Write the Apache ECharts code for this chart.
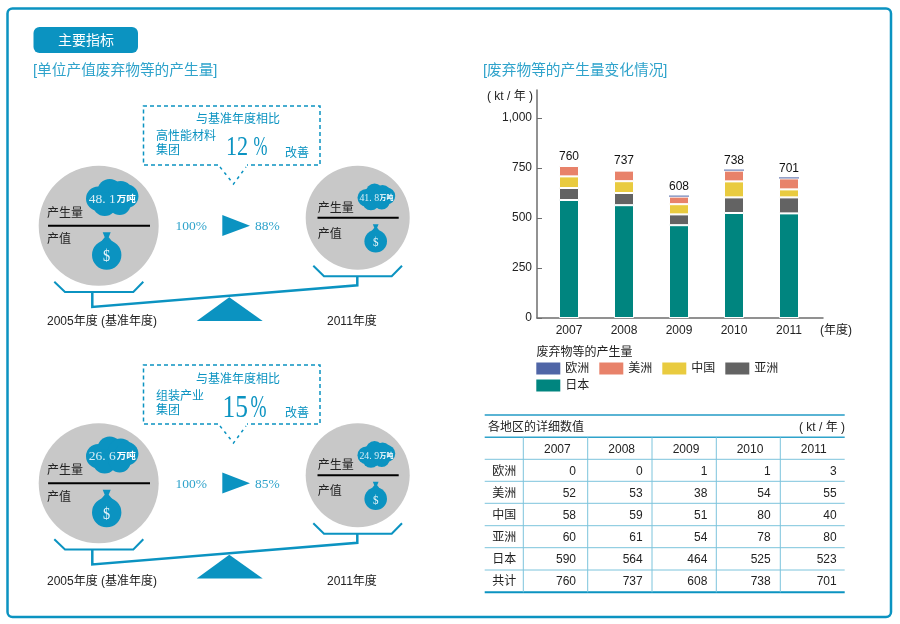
<!DOCTYPE html>
<html lang="zh">
<head>
<meta charset="UTF-8">
<title>主要指标</title>
<script src="https://cdn.jsdelivr.net/npm/echarts@6/dist/echarts.min.js"></script>
<style>
  html, body { margin: 0; padding: 0; background: #fff; }
  #chart { width: 900px; height: 624px; }
</style>
</head>
<body>
<div id="chart"></div>
<script>
// data
const years = ['2007', '2008', '2009', '2010', '2011'];
const europe = [0, 0, 1, 1, 3];
const america = [52, 53, 38, 54, 55];
const china = [58, 59, 51, 80, 40];
const asia = [60, 61, 54, 78, 80];
const japan = [590, 564, 464, 525, 523];
const totals = [760, 737, 608, 738, 701];
const yTicks = [0, 250, 500, 750, 1000];

const BLUE = '#0b93c1';
const LIGHT = '#2fa3cb';
const SANS = '"Liberation Sans","Noto Sans CJK SC",sans-serif';
const SERIF = '"Liberation Serif","Noto Serif CJK SC",serif';
const DARK = '#222';

const graphic = [];

function txt(x, y, text, size, fill, opt) {
  opt = opt || {};
  graphic.push({
    type: 'text', silent: true, x: x, y: y + 1.2, scaleX: opt.scaleX || 1,
    style: {
      x: 0, y: 0, text: text, fill: fill || DARK,
      font: (opt.weight || 'normal') + ' ' + size + 'px ' + (opt.family || SANS),
      textAlign: opt.align || 'left', textVerticalAlign: 'middle',
      align: opt.align || 'left', verticalAlign: 'middle'
    }
  });
}
function line(points, color, width, dash) {
  graphic.push({
    type: 'polyline', silent: true, shape: { points: points },
    style: { stroke: color, lineWidth: width, fill: null, lineDash: dash || null }
  });
}
function poly(points, fill) {
  graphic.push({ type: 'polygon', silent: true, shape: { points: points }, style: { fill: fill } });
}
function circle(cx, cy, r, fill) {
  graphic.push({ type: 'circle', silent: true, shape: { cx: cx, cy: cy, r: r }, style: { fill: fill } });
}

// gray disc with the cloud (waste) over the bag (value)
function disc(p) {
  circle(p.cx, p.cy, p.r, '#c8c8c8');
  line([[p.lineX[0], p.cy], [p.lineX[1], p.cy]], '#000', 2);
  txt(p.textX, p.cy + p.labelDy[0], '产生量', 12, DARK);
  txt(p.textX, p.cy + p.labelDy[1], '产值', 12, DARK);
  const c = p.cloud, s = p.scale;
  const lobes = [[-13.5, 0.7, 12.2], [-2, -6.7, 12.3], [9, -4.5, 12.5], [15, -1.7, 11.7], [-7, 6, 12], [8, 6, 11]];
  lobes.forEach(function (l) { circle(c[0] + l[0] * s, c[1] + l[1] * s, l[2] * s, BLUE); });
  txt(c[0] - 23 * s, c[1], p.value, 13 * s + 0.5, '#d8eef6', { family: SERIF });
  txt(c[0] + 5 * s, c[1], '万吨', 9.5 * s, '#fff', { weight: 'bold' });
  const b = p.bag, r = p.bagR;
  poly([[b[0] - 4 * s, b[1] - r - 8 * s], [b[0] + 4 * s, b[1] - r - 8 * s], [b[0] + 2 * s, b[1] - r - 3 * s], [b[0] + 7 * s, b[1] - r + 3 * s], [b[0] - 7 * s, b[1] - r + 3 * s], [b[0] - 2 * s, b[1] - r - 3 * s]], BLUE);
  circle(b[0], b[1], r, BLUE);
  txt(b[0], b[1] + 0.5, '$', r * 1.15, '#e6f4f9', { family: SERIF, align: 'center', scaleX: 0.85 });
}

// one balance scale panel, dy moves the drawing, dt the texts
function panel(dy, dBox, dt, o) {
  line([[218, 165 + dBox], [143.5, 165 + dBox], [143.5, 106 + dBox], [320, 106 + dBox], [320, 165 + dBox], [247, 165 + dBox]], BLUE, 1.5, [4, 3]);
  line([[220, 167 + dBox], [233.5, 184 + dBox], [246, 167 + dBox]], BLUE, 1.5, [3, 4]);
  txt(238, 118 + dt, '与基准年度相比', 12, BLUE, { align: 'center' });
  txt(156, 135 + dt, o.group, 12, BLUE);
  txt(156, 149 + dt, '集团', 12, BLUE);
  txt(o.pctX, 147 + dt, o.pct, o.pctSize, BLUE, { family: SERIF, scaleX: 0.82 });
  txt(o.signX, 147 + dt, '%', o.pctSize, BLUE, { family: SERIF, scaleX: 0.62 });
  txt(285, 152 + dt, '改善', 12, BLUE);

  disc({ cx: 98.7, cy: 225.7 + dy, r: 60, lineX: [48, 150], textX: 47, labelDy: [-13.4, 13], cloud: [111.7, 198 + dy], scale: 1, value: o.left, bag: [106.7, 255 + dy], bagR: 14.7 });
  disc({ cx: 357.7, cy: 217.7 + dy, r: 52, lineX: [317.5, 398.7], textX: 317.7, labelDy: [-10.7, 15.3], cloud: [376, 197.3 + dy], scale: 0.72, value: o.right, bag: [375.7, 241.3 + dy], bagR: 11.3 });

  txt(175.5, 225.7 + dy, '100%', 13.5, LIGHT, { family: SERIF });
  poly([[222.3, 215 + dy], [250, 225.7 + dy], [222.3, 236 + dy]], BLUE);
  txt(255, 225.7 + dy, o.after, 13.5, LIGHT, { family: SERIF });

  line([[54.3, 281.7 + dy], [65, 292 + dy], [133.3, 292 + dy], [143.3, 281.7 + dy]], BLUE, 2);
  line([[313.3, 265.7 + dy], [324, 276.3 + dy], [391.7, 276.3 + dy], [402, 265.7 + dy]], BLUE, 2);
  line([[92.3, 292 + dy], [92.3, 307 + dy], [357.3, 285.3 + dy], [357.3, 276.3 + dy]], BLUE, 2.5);
  poly([[229.3, 297.3 + dy], [196.7, 321 + dy], [262.7, 321 + dy]], BLUE);

  txt(47, 320 + dt, '2005年度 (基准年度)', 12, DARK);
  txt(327, 320 + dt, '2011年度', 12, DARK);
}

// frame and headings
graphic.push({ type: 'rect', silent: true, shape: { x: 7.5, y: 8.5, width: 883.5, height: 608.5, r: 5 }, style: { fill: null, stroke: BLUE, lineWidth: 2.5 } });
graphic.push({ type: 'rect', silent: true, shape: { x: 33.5, y: 27, width: 104.5, height: 26, r: 6 }, style: { fill: BLUE } });
txt(86, 40, '主要指标', 14, '#fff', { align: 'center' });
txt(33, 70, '[单位产值废弃物等的产生量]', 14.7, LIGHT);
txt(483, 70, '[废弃物等的产生量变化情况]', 14.7, LIGHT);

panel(0, 0, 0, { group: '高性能材料', pct: '12', pctX: 226, signX: 253.5, pctSize: 27, left: '48. 1', right: '41. 8', after: '88%' });
panel(257.5, 259, 260.5, { group: '组装产业', pct: '15', pctX: 222.5, signX: 250.5, pctSize: 31, left: '26. 6', right: '24. 9', after: '85%' });

// chart side texts
txt(487, 95.7, '( kt / 年 )', 12, DARK);
txt(820, 329.3, '(年度)', 12, DARK);
txt(536.5, 351.7, '废弃物等的产生量', 12, DARK);

// table
const tableLeft = 484.7, tableRight = 844.7;
const colLines = [523.3, 587.7, 652, 716.3, 780.3];
const rowLines = [459.3, 481.3, 503.3, 525.7, 547.7, 570];
const yearX = [557.3, 621.7, 686, 750, 813.7];
const valueX = [576, 642.7, 707.3, 770.7, 836.7];
const rowNames = ['欧洲', '美洲', '中国', '亚洲', '日本', '共计'];
const rowValues = [europe, america, china, asia, japan, totals];
const rowY = [470, 492.3, 514.3, 536.5, 558.5, 580.5];
line([[tableLeft, 415], [tableRight, 415]], '#5ab4d4', 2);
line([[tableLeft, 437.3], [tableRight, 437.3]], '#2fa3cb', 1.5);
line([[tableLeft, 592.3], [tableRight, 592.3]], BLUE, 2);
rowLines.forEach(function (y) { line([[tableLeft, y], [tableRight, y]], '#7cc4dc', 1); });
colLines.forEach(function (x) { line([[x, 437.3], [x, 592.3]], '#7cc4dc', 1); });
txt(488, 426, '各地区的详细数值', 12, DARK);
txt(845, 426, '( kt / 年 )', 12, DARK, { align: 'right' });
years.forEach(function (y, i) { txt(yearX[i], 448.3, y, 12, DARK, { align: 'center' }); });
rowNames.forEach(function (name, r) {
  txt(504.3, rowY[r], name, 12, DARK, { align: 'center' });
  rowValues[r].forEach(function (v, i) { txt(valueX[i], rowY[r], String(v), 12, DARK, { align: 'right' }); });
});

function barSeries(name, values, color, border) {
  return {
    name: name, type: 'bar', stack: 'waste', xAxisIndex: 1, yAxisIndex: 1, barWidth: 20,
    data: values,
    itemStyle: { color: color, borderColor: '#fff', borderWidth: border }
  };
}

const legendBase = { icon: 'rect', padding: 0, left: 536.3, itemWidth: 24, itemHeight: 12, itemGap: 10, itemStyle: { borderWidth: 0 }, textStyle: { fontSize: 12, color: DARK, fontFamily: SANS } };

const chart = echarts.init(document.getElementById('chart'));
chart.setOption({
  animation: false,
  backgroundColor: '#fff',
  textStyle: { fontFamily: SANS },
  legend: [
    Object.assign({}, legendBase, { data: ['欧洲', '美洲', '中国', '亚洲'], top: 362.5 }),
    Object.assign({}, legendBase, { data: ['日本'], top: 379.5 })
  ],
  grid: [
    { left: 537, top: 90, width: 286, height: 228 },
    { left: 541.5, top: 90, width: 275, height: 228 }
  ],
  xAxis: [
    { type: 'category', gridIndex: 0, data: [], axisLine: { lineStyle: { color: '#6e6e6e', width: 1.5 } }, axisTick: { show: false }, axisLabel: { show: false } },
    { type: 'category', gridIndex: 1, data: years, axisLine: { show: false }, axisTick: { show: false }, axisLabel: { fontSize: 12, color: DARK, margin: 7, fontFamily: SANS } }
  ],
  yAxis: [
    {
      type: 'value', gridIndex: 0, min: 0, max: 1140,
      splitLine: { show: false },
      axisLine: { show: true, lineStyle: { color: '#6e6e6e', width: 1.5 } },
      axisTick: { show: true, inside: true, length: 5, customValues: yTicks, lineStyle: { color: '#6e6e6e' } },
      axisLabel: {
        customValues: yTicks, fontSize: 12, color: DARK, margin: 5, fontFamily: SANS, padding: [2, 0, 0, 0],
        formatter: function (v) { return v.toLocaleString('en-US'); }
      }
    },
    { type: 'value', gridIndex: 1, min: 0, max: 1140, show: false, splitLine: { show: false } }
  ],
  series: [
    barSeries('日本', japan, '#00857f', 1),
    barSeries('亚洲', asia, '#636363', 1),
    barSeries('中国', china, '#e9cb3f', 1),
    barSeries('美洲', america, '#e8826a', 1),
    Object.assign(barSeries('欧洲', europe.map(function (v) { return v === 0 ? null : v; }), '#4f65a6', 0), { barMinHeight: 1 }),
    {
      name: '共计', type: 'scatter', xAxisIndex: 1, yAxisIndex: 1, data: totals,
      symbolSize: 1, itemStyle: { color: 'transparent', opacity: 1 }, silent: true,
      label: { show: true, position: 'top', distance: 3, fontSize: 12, color: '#111', fontFamily: SANS }
    }
  ],
  graphic: { elements: graphic }
});
</script>
</body>
</html>
